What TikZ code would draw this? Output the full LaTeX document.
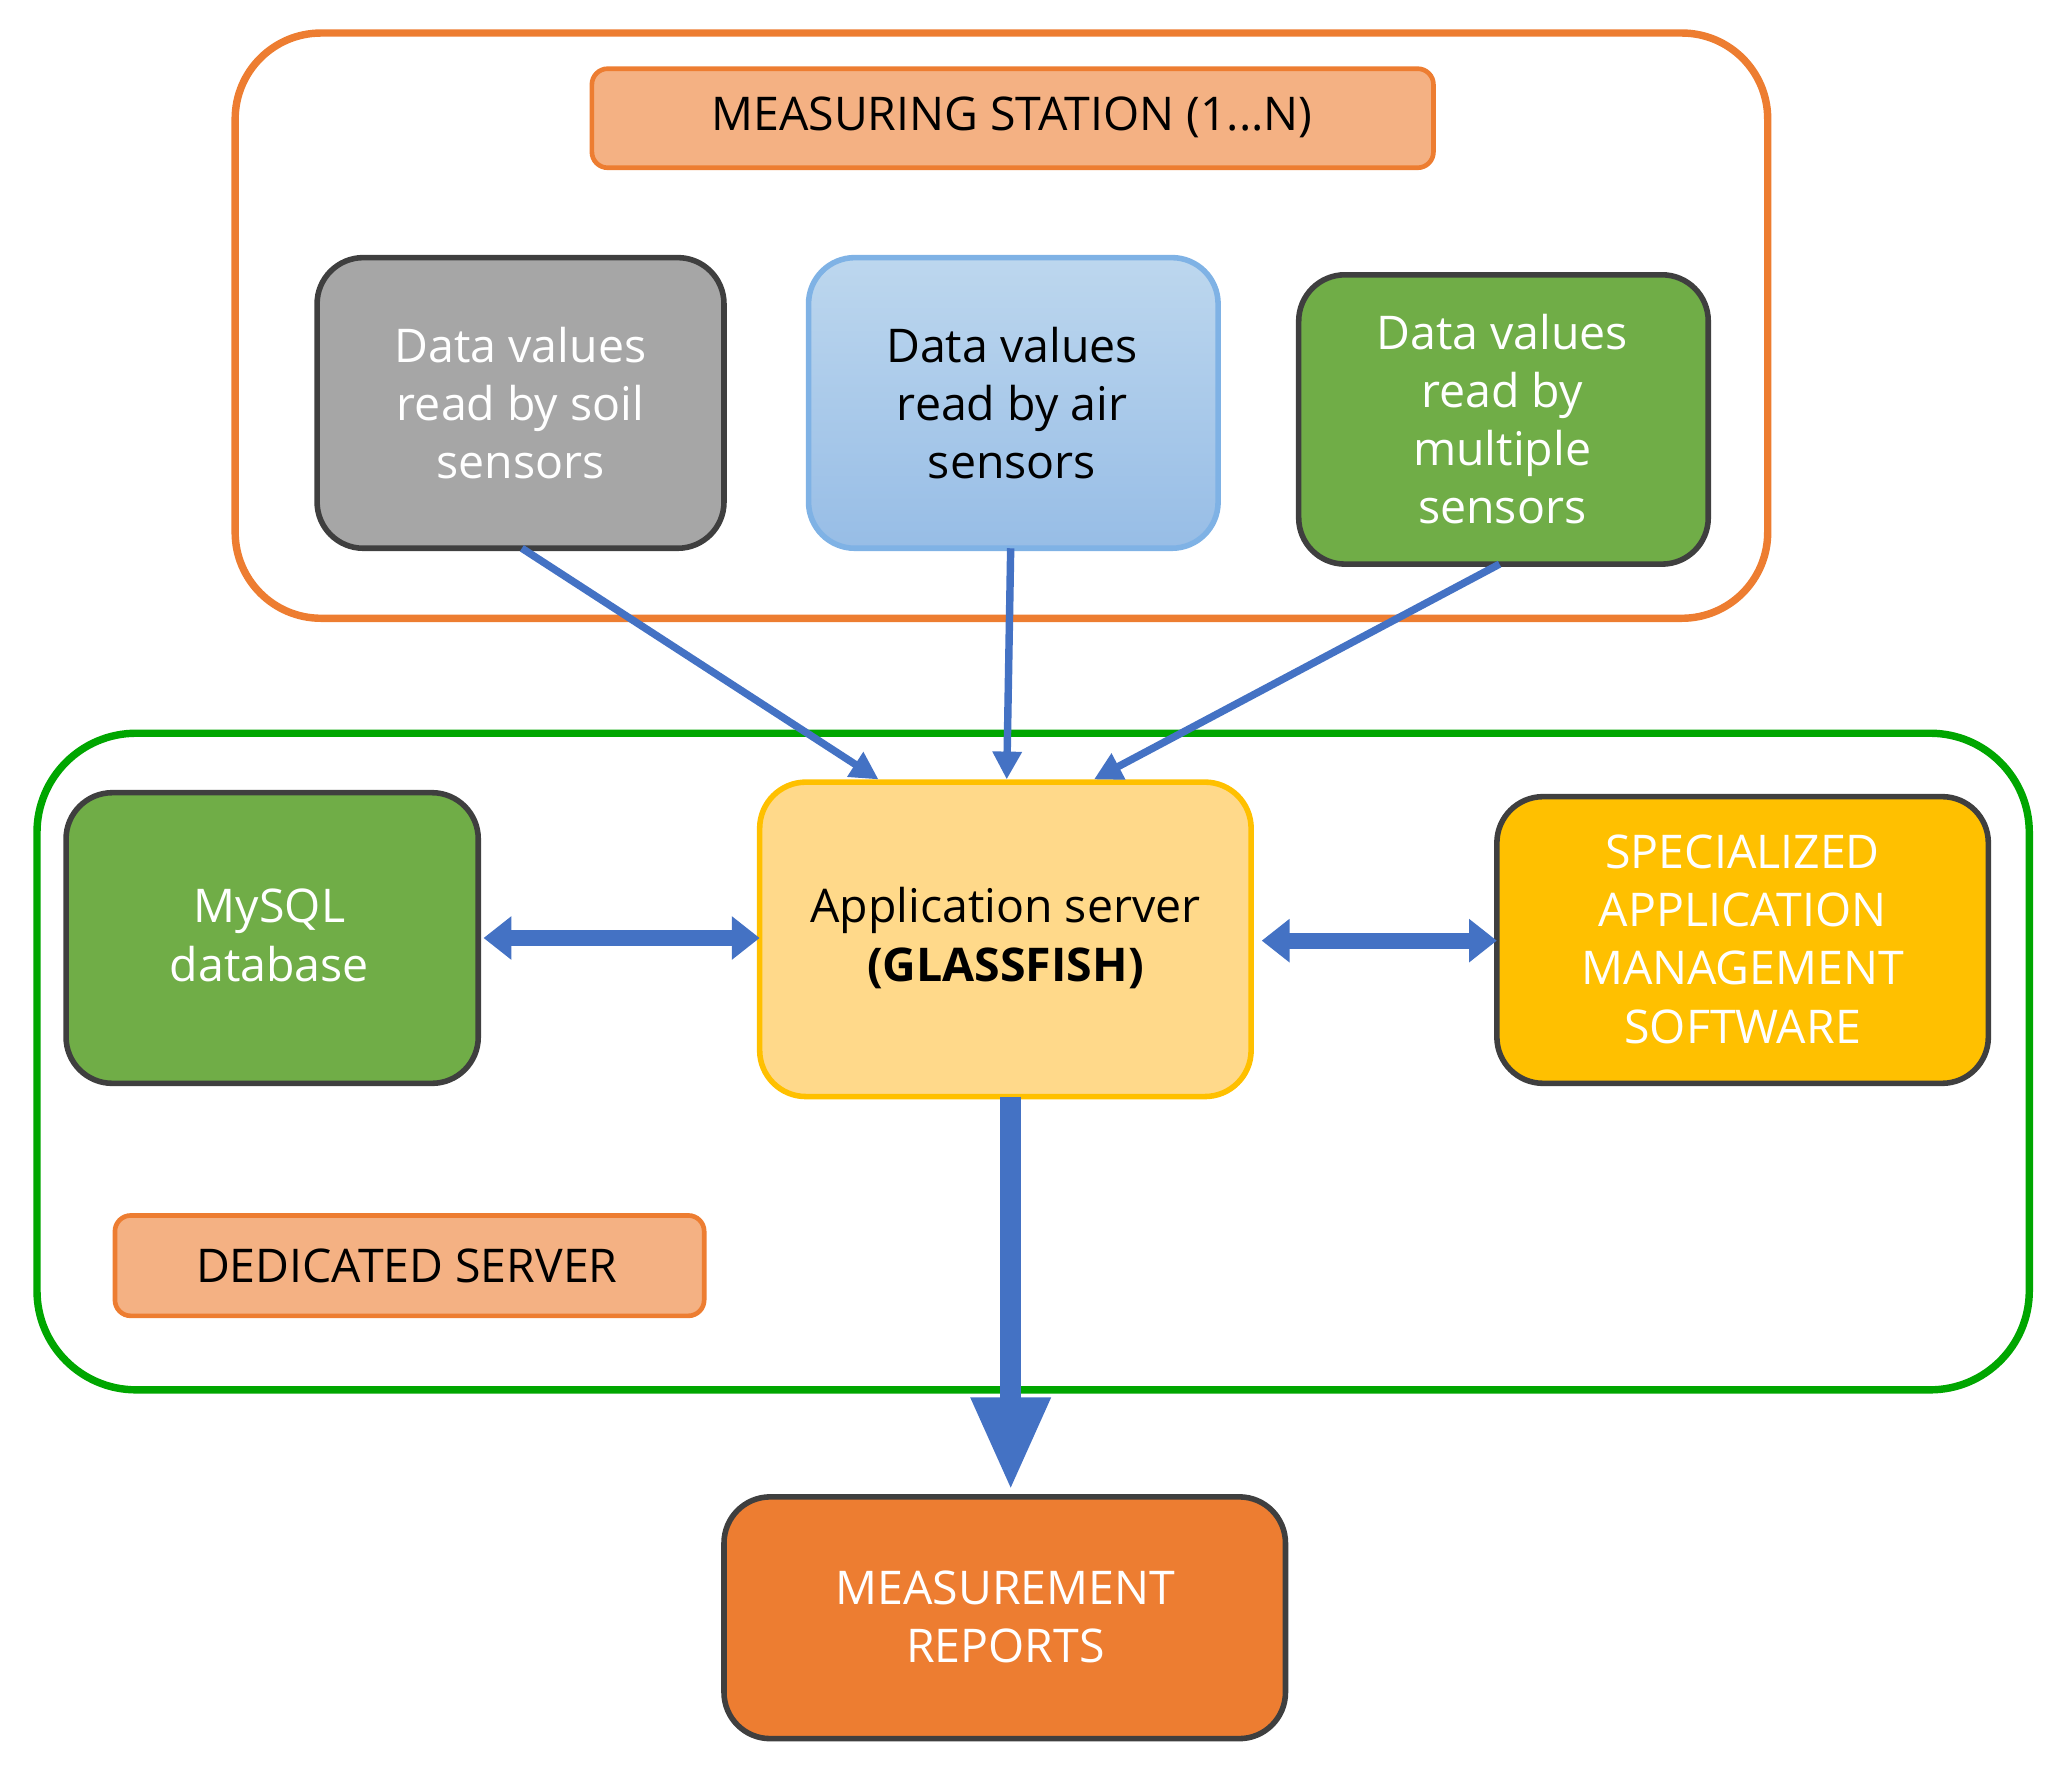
\documentclass[tikz,border=0pt]{standalone}
\usepackage{fontspec}
\setmainfont{Open Sans}
\usetikzlibrary{arrows.meta}
\definecolor{orng}{HTML}{ED7D31}
\definecolor{salmon}{HTML}{F4B183}
\definecolor{grn}{HTML}{70AD47}
\definecolor{gold}{HTML}{FFC000}
\definecolor{lyel}{HTML}{FFD98A}
\definecolor{ablue}{HTML}{4472C4}
\definecolor{dk}{HTML}{3F3F3F}
\definecolor{bltop}{HTML}{BDD7EE}
\definecolor{blbot}{HTML}{97BDE6}
\definecolor{blbd}{HTML}{7FB2E5}
\begin{document}
\begin{tikzpicture}[x=0.01cm,y=-0.01cm,
 box/.style={rounded corners=0.35cm,line width=1.2pt,draw=dk},
 lbl/.style={rounded corners=0.12cm,line width=1pt,draw=orng,fill=salmon},
 txt/.style={align=center,font=\fontsize{10}{12.5}\selectfont},
 thin/.style={ablue,line width=1.6pt,-{Triangle[width=6pt,length=6pt]}},
 fat/.style={ablue,line width=3.5pt,{Triangle[width=9pt,length=6pt]}-{Triangle[width=9pt,length=6pt]}}]
\useasboundingbox (0,0) rectangle (1560,1340);
\draw[orng,line width=1.6pt,rounded corners=0.65cm] (178,25) rectangle (1338,468);
\draw[lbl] (448,52) rectangle (1085,127);
\node[txt] (t1) at (766,89) {MEASURING STATION (1...N)};
\draw[box,fill=gray!70] (240,195) rectangle (548,415);
\node[txt,text=white] (soil) at (394,305) {Data values\\read by soil\\sensors};
\shade[rounded corners=0.35cm,top color=bltop,bottom color=blbot] (612,195) rectangle (922,415);
\draw[rounded corners=0.35cm,draw=blbd,line width=1.2pt] (612,195) rectangle (922,415);
\node[txt] (air) at (766,305) {Data values\\read by air\\sensors};
\draw[box,fill=grn] (983,208) rectangle (1293,427);
\node[txt,text=white] (mult) at (1137,317) {Data values\\read by\\multiple\\sensors};
\draw[green!65!black,line width=1.6pt,rounded corners=0.75cm] (28,555) rectangle (1536,1052);
\draw[box,fill=grn] (50,600) rectangle (362,820);
\node[txt,text=white] (db) at (204,708) {MySQL\\database};
\draw[box,fill=lyel,draw=gold] (575,592) rectangle (947,830);
\node[txt] (app) at (761,710) {Application server\\\textbf{(GLASSFISH)}};
\draw[box,fill=gold] (1133,603) rectangle (1505,820);
\node[txt,text=white] (spec) at (1319,711) {SPECIALIZED\\APPLICATION\\MANAGEMENT\\SOFTWARE};
\draw[lbl] (87,920) rectangle (533,996);
\node[txt] (ded) at (308,958) {DEDICATED SERVER};
\draw[box,fill=orng] (548,1133) rectangle (973,1316);
\node[txt,text=white] (rep) at (761,1224) {MEASUREMENT\\REPORTS};
\coordinate (s1) at (395,415); \coordinate (e1) at (665,590);
\coordinate (s2) at (765,415); \coordinate (e2) at (762,590);
\coordinate (s3) at (1135,427); \coordinate (e3) at (828,590);
\draw[thin] (s1) -- (e1); \draw[thin] (s2) -- (e2); \draw[thin] (s3) -- (e3);
\coordinate (d1) at (366,710); \coordinate (d2) at (575,710);
\coordinate (d3) at (955,712); \coordinate (d4) at (1133,712);
\draw[fat] (d1) -- (d2); \draw[fat] (d3) -- (d4);
\coordinate (b1) at (765,830); \coordinate (b2) at (765,1128);
\draw[ablue,line width=4.5pt,-{Triangle[width=16pt,length=20pt]}] (b1) -- (b2);
\end{tikzpicture}
\end{document}
